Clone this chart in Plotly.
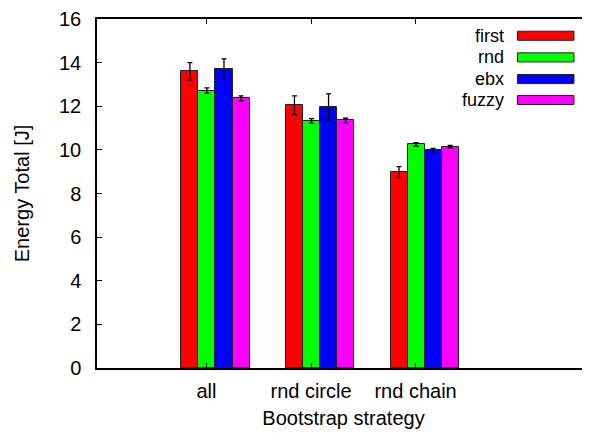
import plotly.graph_objects as go

categories = ["all", "rnd circle", "rnd chain"]
series_names = ["first", "rnd", "ebx", "fuzzy"]
first_vals = [13.6, 12.05, 8.98]
first_err = [0.40, 0.43, 0.25]
rnd_vals = [12.72, 11.33, 10.25]
rnd_err = [0.12, 0.10, 0.08]
ebx_vals = [13.7, 11.97, 9.99]
ebx_err = [0.47, 0.60, 0.08]
fuzzy_vals = [12.36, 11.35, 10.15]
fuzzy_err = [0.12, 0.10, 0.06]
y_ticks = [0, 2, 4, 6, 8, 10, 12, 14, 16]

colors = ["#ff0000", "#00ff00", "#0000ff", "#ff00ff"]
values = [first_vals, rnd_vals, ebx_vals, fuzzy_vals]
errors = [first_err, rnd_err, ebx_err, fuzzy_err]

FONT = "Liberation Sans, Arial, Helvetica, sans-serif"
bar_w = 0.163
start = -0.24
xpos = list(range(len(categories)))

fig = go.Figure()
for k, (name, vals, errs, col) in enumerate(zip(series_names, values, errors, colors)):
    fig.add_trace(go.Bar(
        x=xpos, y=vals, name=name,
        width=bar_w, offset=start + k * bar_w,
        marker=dict(color=col, line=dict(color="#222222", width=1)),
        error_y=dict(type="data", array=errs, color="black", thickness=1.3, width=2.5),
        showlegend=False,
    ))

# custom legend (text on the left, swatch on the right, like the original)
row_y = [0.952, 0.890, 0.828, 0.768]
for name, col, yy in zip(series_names, colors, row_y):
    fig.add_shape(type="rect", xref="paper", yref="paper",
                  x0=0.853, x1=0.9675, y0=yy - 0.013, y1=yy + 0.013,
                  fillcolor=col, line=dict(color="#222222", width=1))
    fig.add_annotation(xref="paper", yref="paper", x=0.829, y=yy,
                       text=name, showarrow=False, xanchor="right", yanchor="middle",
                       font=dict(family=FONT, size=18, color="black"))

# the page adds an 8px body margin, so the figure is sized/offset to compensate
fig.update_layout(
    width=582, height=428,
    margin=dict(l=89, r=0, t=11, b=68),
    plot_bgcolor="white", paper_bgcolor="white",
    font=dict(family=FONT, size=20, color="black"),
    bargap=0,
    xaxis=dict(
        range=[-1.047, 3.668],
        tickmode="array", tickvals=xpos, ticktext=categories,
        ticks="inside", ticklen=5, tickcolor="black",
        showline=True, linecolor="black", linewidth=1.5, mirror="ticks",
        showgrid=False, zeroline=False,
        ticklabelstandoff=4,
        title=dict(text="Bootstrap strategy", standoff=10, font=dict(size=20)),
        tickfont=dict(size=20),
    ),
    yaxis=dict(
        range=[0, 16],
        tickmode="array", tickvals=y_ticks,
        ticks="inside", ticklen=5, tickcolor="black",
        showline=True, linecolor="black", linewidth=1.5, mirror=False,
        showgrid=False, zeroline=False,
        ticklabelstandoff=10,
        title=dict(text="Energy Total [J]", standoff=24, font=dict(size=20)),
        tickfont=dict(size=20),
    ),
)

fig.write_html("out.html")
